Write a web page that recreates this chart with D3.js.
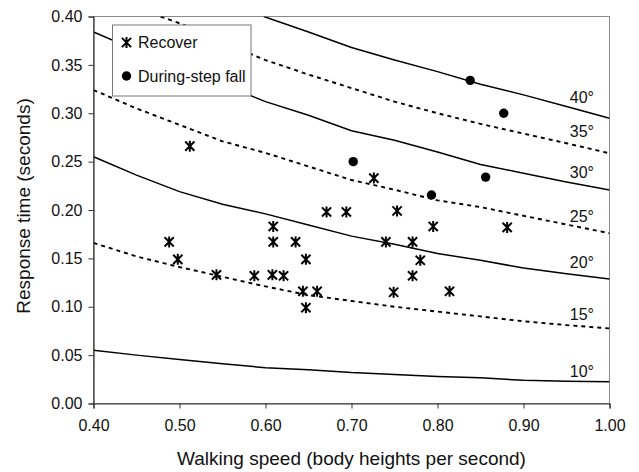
<!DOCTYPE html>
<html><head><meta charset="utf-8">
<script src="https://cdn.jsdelivr.net/npm/d3@7"></script>
<style>
body{margin:0;background:#fff;}
text{font-family:"Liberation Sans",Arial,sans-serif;fill:#111;}
</style></head>
<body><svg id="chart" width="639" height="472"></svg>
<script>
// ---- data ----
const xTicks = [0.40,0.50,0.60,0.70,0.80,0.90,1.00];
const yTicks = [0.00,0.05,0.10,0.15,0.20,0.25,0.30,0.35,0.40];
const gridX = [0.40,0.45,0.50,0.55,0.60,0.65,0.70,0.75,0.80,0.85,0.90,0.95,1.00];

const curve10 = [0.055,0.050,0.0455,0.041,0.037,0.035,0.032,0.030,0.028,0.0265,0.024,0.023,0.0224];
const curve15 = [0.166,0.152,0.141,0.131,0.121,0.112,0.106,0.100,0.095,0.090,0.085,0.081,0.0776];
const curve20 = [0.255,0.236,0.219,0.206,0.196,0.1845,0.173,0.1645,0.155,0.148,0.140,0.134,0.1286];
const curve25 = [0.324,0.305,0.288,0.271,0.259,0.245,0.231,0.221,0.210,0.203,0.194,0.185,0.176];
const curve30 = [0.384,0.365,0.348,0.330,0.312,0.298,0.282,0.272,0.260,0.247,0.238,0.229,0.2207];
const curve35x = [0.478,0.50,0.55,0.586,0.60,0.65,0.70,0.75,0.80,0.85,0.90,0.95,1.00];
const curve35 = [0.400,0.393,0.376,0.360,0.355,0.340,0.326,0.312,0.300,0.289,0.279,0.269,0.2586];
const curve40x = [0.598,0.65,0.70,0.75,0.80,0.85,0.90,0.95,1.00];
const curve40 = [0.400,0.384,0.368,0.355,0.343,0.330,0.319,0.307,0.2948];

const curveNames = ["10°","15°","20°","25°","30°","35°","40°"];
const curveDashed = [false,true,false,true,false,true,false];
const labelX = 0.982;
const labelY = [0.027,0.086,0.140,0.188,0.233,0.275,0.311];

const recoverX = [0.512,0.726,0.671,0.694,0.753,0.609,0.795,0.881,0.488,0.609,0.635,0.740,0.771,0.498,0.647,0.780,0.543,0.587,0.608,0.621,0.771,0.6435,0.660,0.749,0.814,0.647];
const recoverY = [0.266,0.233,0.198,0.198,0.199,0.183,0.183,0.182,0.167,0.167,0.167,0.167,0.167,0.149,0.149,0.148,0.133,0.132,0.133,0.132,0.132,0.116,0.116,0.115,0.116,0.099];
const fallX = [0.702,0.793,0.838,0.877,0.856];
const fallY = [0.250,0.2155,0.334,0.300,0.234];

const legendLabels = ["Recover","During-step fall"];

// ---- layout ----
const W = 639, H = 472;
const m = {left:93.5, right:29.5, top:16.5, bottom:68.5};
const svg = d3.select("#chart");
const x = d3.scaleLinear().domain([0.4,1.0]).range([m.left, W-m.right]);
const y = d3.scaleLinear().domain([0,0.4]).range([H-m.bottom, m.top]);

svg.append("defs").append("clipPath").attr("id","clip")
  .append("rect").attr("x",m.left).attr("y",m.top)
  .attr("width",W-m.left-m.right).attr("height",H-m.top-m.bottom);

// frame (top/right)
svg.append("rect").attr("x",m.left).attr("y",m.top)
  .attr("width",W-m.left-m.right).attr("height",H-m.top-m.bottom)
  .attr("fill","none").attr("stroke","#8a8a8a").attr("stroke-width",1);

// curves
const curveData = [
  gridX.map((v,i)=>[v,curve10[i]]),
  gridX.map((v,i)=>[v,curve15[i]]),
  gridX.map((v,i)=>[v,curve20[i]]),
  gridX.map((v,i)=>[v,curve25[i]]),
  gridX.map((v,i)=>[v,curve30[i]]),
  curve35x.map((v,i)=>[v,curve35[i]]),
  curve40x.map((v,i)=>[v,curve40[i]])
];
const line = d3.line().x(d=>x(d[0])).y(d=>y(d[1]));
const gC = svg.append("g").attr("clip-path","url(#clip)");
curveData.forEach((cd,i)=>{
  gC.append("path").attr("d",line(cd)).attr("fill","none")
    .attr("stroke","#000")
    .attr("stroke-width",curveDashed[i]?1.9:1.5)
    .attr("stroke-dasharray",curveDashed[i]?"4,4":null);
});

// curve labels
curveNames.forEach((n,i)=>{
  svg.append("text").attr("x",x(labelX)).attr("y",y(labelY[i]))
    .attr("text-anchor","end").attr("font-size",16).text(n);
});

// axes
const xAxis = d3.axisBottom(x).tickValues(xTicks).tickFormat(d3.format(".2f")).tickSize(5).tickPadding(11);
const yAxis = d3.axisLeft(y).tickValues(yTicks).tickFormat(d3.format(".2f")).tickSize(5).tickPadding(6);
const gx = svg.append("g").attr("transform",`translate(0,${H-m.bottom})`).call(xAxis);
const gy = svg.append("g").attr("transform",`translate(${m.left},0)`).call(yAxis);
[gx,gy].forEach(g=>{
  g.select(".domain").attr("stroke","#333").attr("stroke-width",1.2);
  g.selectAll(".tick line").attr("stroke","#333");
  g.selectAll(".tick text").attr("font-size",16).attr("font-family","Liberation Sans, Arial, sans-serif").attr("fill","#111");
});

// axis titles
svg.append("text").attr("x",(x(0.4)+x(1.0))/2).attr("y",465)
  .attr("text-anchor","middle").attr("font-size",19)
  .text("Walking speed (body heights per second)");
svg.append("text").attr("transform",`translate(30,${(y(0)+y(0.4))/2-4}) rotate(-90)`)
  .attr("text-anchor","middle").attr("font-size",19)
  .text("Response time (seconds)");

// markers
const starPath = (s)=>`M${-s},${-s}L${s},${s}M${-s},${s}L${s},${-s}M0,${-s*1.2}L0,${s*1.2}`;
const gP = svg.append("g");
recoverX.forEach((v,i)=>{
  gP.append("path").attr("transform",`translate(${x(v)},${y(recoverY[i])})`)
    .attr("d",starPath(4.6)).attr("stroke","#000").attr("stroke-width",2).attr("fill","none");
});
fallX.forEach((v,i)=>{
  gP.append("circle").attr("cx",x(v)).attr("cy",y(fallY[i])).attr("r",4.7).attr("fill","#000");
});

// legend
const lg = svg.append("g");
lg.append("rect").attr("x",112.5).attr("y",25).attr("width",138.5).attr("height",71)
  .attr("fill","#fff").attr("stroke","#777").attr("stroke-width",1);
lg.append("path").attr("transform","translate(126.5,42.5)").attr("d",starPath(4.6))
  .attr("stroke","#000").attr("stroke-width",2).attr("fill","none");
lg.append("circle").attr("cx",126.5).attr("cy",76).attr("r",4.7).attr("fill","#000");
legendLabels.forEach((t,i)=>{
  lg.append("text").attr("x",138).attr("y",i===0?48:82).attr("font-size",16).text(t);
});
</script></body></html>
